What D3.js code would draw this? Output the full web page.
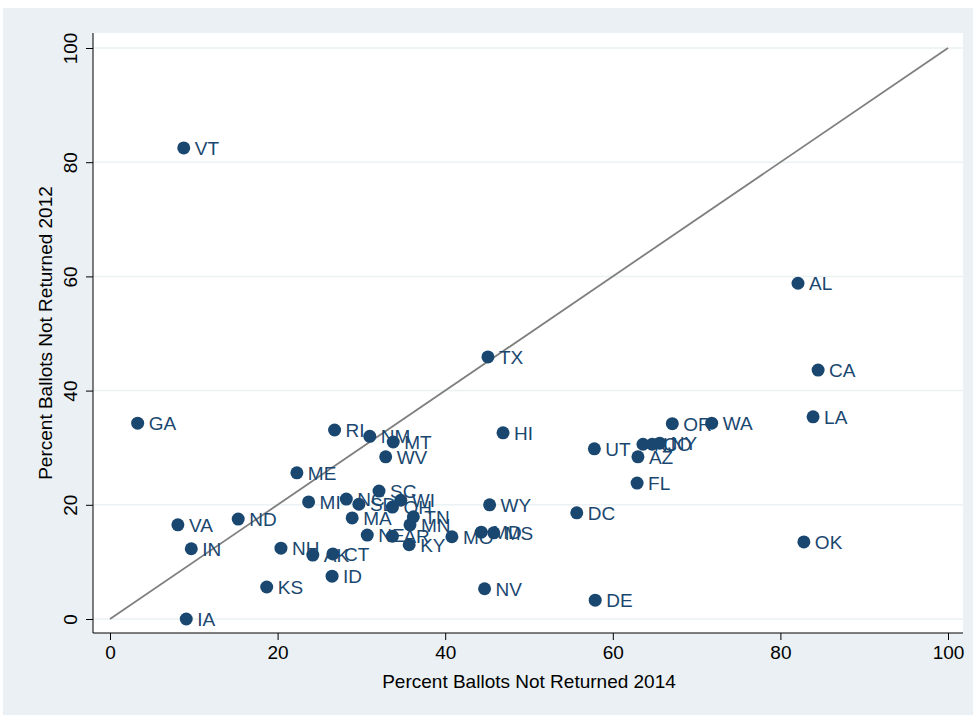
<!DOCTYPE html>
<html lang="en">
<head>
	<meta charset="UTF-8">
	<title>Ballots not returned</title>
	<script type="text/javascript" src="https://d3js.org/d3.v7.min.js"></script>
	<style>
		body { margin: 0; background: #fff; }
		text { font-family: "Liberation Sans", Arial, sans-serif; }
	</style>
</head>
<body>
	<svg id="chart" width="976" height="715"></svg>

	<script>
		// state labels, % not returned 2014 (x) and 2012 (y)
		var states = ["VT","GA","AL","CA","LA","OK","TX","HI","WA","OR","UT","AZ","NJ","CO","NY","FL","DC","WY","DE","NV","MD","MS","MO",
			"RI","NM","MT","WV","ME","SC","MI","NC","SD","OH","WI","MA","TN","MN","NE","AR","KY","NH","AK","CT","ID","KS","IA","ND","VA","IN"];
		var pct2014 = [8.8,3.3,82.1,84.5,83.9,82.8,45.1,46.9,71.8,67.1,57.8,63.0,63.6,64.7,65.6,62.9,55.7,45.3,57.9,44.7,44.3,45.8,40.8,
			26.8,31.0,33.8,32.9,22.3,32.1,23.7,28.2,29.7,33.7,34.7,28.9,36.2,35.8,30.7,33.7,35.7,20.4,24.2,26.6,26.5,18.7,9.1,15.3,8.1,9.7];
		var pct2012 = [82.5,34.3,58.8,43.6,35.4,13.5,45.9,32.6,34.3,34.2,29.8,28.4,30.6,30.6,30.8,23.8,18.6,20.0,3.3,5.3,15.2,15.1,14.4,
			33.1,32.0,31.0,28.4,25.6,22.4,20.5,21.0,20.1,19.6,20.8,17.7,17.9,16.5,14.7,14.5,13.0,12.4,11.2,11.4,7.5,5.6,0.0,17.5,16.5,12.3];
		var xTicks = [0,20,40,60,80,100];
		var yTicks = [0,20,40,60,80,100];

		var navy = "#1a476f";
		var svg = d3.select("#chart");

		// outer panel and plot region
		svg.append("rect").attr("x",3).attr("y",8).attr("width",970).attr("height",707).attr("fill","#eaf0f3");
		svg.append("rect").attr("x",93).attr("y",33).attr("width",870).attr("height",600).attr("fill","#fff");

		var x = d3.scaleLinear().domain([0,100]).range([110,948]);
		var y = d3.scaleLinear().domain([0,100]).range([619,48]);

		// gridlines
		svg.selectAll(".grid").data(yTicks).enter().append("line")
			.attr("x1",93).attr("x2",963)
			.attr("y1",function(d){return y(d)}).attr("y2",function(d){return y(d)})
			.attr("stroke","#eaf2f3").attr("stroke-width",1.5);

		// axes
		var xAxis = svg.append("g").attr("transform","translate(0,633)")
			.call(d3.axisBottom(x).tickValues(xTicks).tickSize(7).tickPadding(6));
		var yAxis = svg.append("g").attr("transform","translate(93,0)")
			.call(d3.axisLeft(y).tickValues(yTicks).tickSize(7).tickPadding(6));
		[xAxis,yAxis].forEach(function(a){
			a.select(".domain").remove();
			a.selectAll("line").attr("stroke","#000");
			a.selectAll("text").attr("fill","#000").style("font-size","19px").style("font-family","'Liberation Sans', Arial, sans-serif");
		});
		yAxis.selectAll("text").attr("transform","rotate(-90)").attr("text-anchor","middle")
			.attr("x",0).attr("dy","0").attr("y",-16);
		svg.append("line").attr("x1",93).attr("x2",963).attr("y1",633).attr("y2",633).attr("stroke","#000");
		svg.append("line").attr("x1",93).attr("x2",93).attr("y1",33).attr("y2",633).attr("stroke","#000");

		// titles
		svg.append("text").attr("x",529).attr("y",688).attr("text-anchor","middle")
			.style("font-size","19px").text("Percent Ballots Not Returned 2014");
		svg.append("text").attr("transform","translate(52,333) rotate(-90)").attr("text-anchor","middle")
			.style("font-size","19px").text("Percent Ballots Not Returned 2012");

		// 45 degree reference line
		svg.append("line").attr("x1",x(0)).attr("y1",y(0)).attr("x2",x(100)).attr("y2",y(100))
			.attr("stroke","#7f7f7f").attr("stroke-width",1.8);

		var pts = states.map(function(s,i){ return {s:s, x:pct2014[i], y:pct2012[i]}; });

		svg.selectAll(".lab").data(pts).enter().append("text")
			.attr("x",function(d){return x(d.x)+11}).attr("y",function(d){return y(d.y)})
			.attr("dy","0.36em").attr("fill",navy).style("font-size","19px")
			.text(function(d){return d.s});

		svg.selectAll(".pt").data(pts).enter().append("circle")
			.attr("cx",function(d){return x(d.x)}).attr("cy",function(d){return y(d.y)})
			.attr("r",6.5).attr("fill",navy);
	</script>
</body>
</html>
